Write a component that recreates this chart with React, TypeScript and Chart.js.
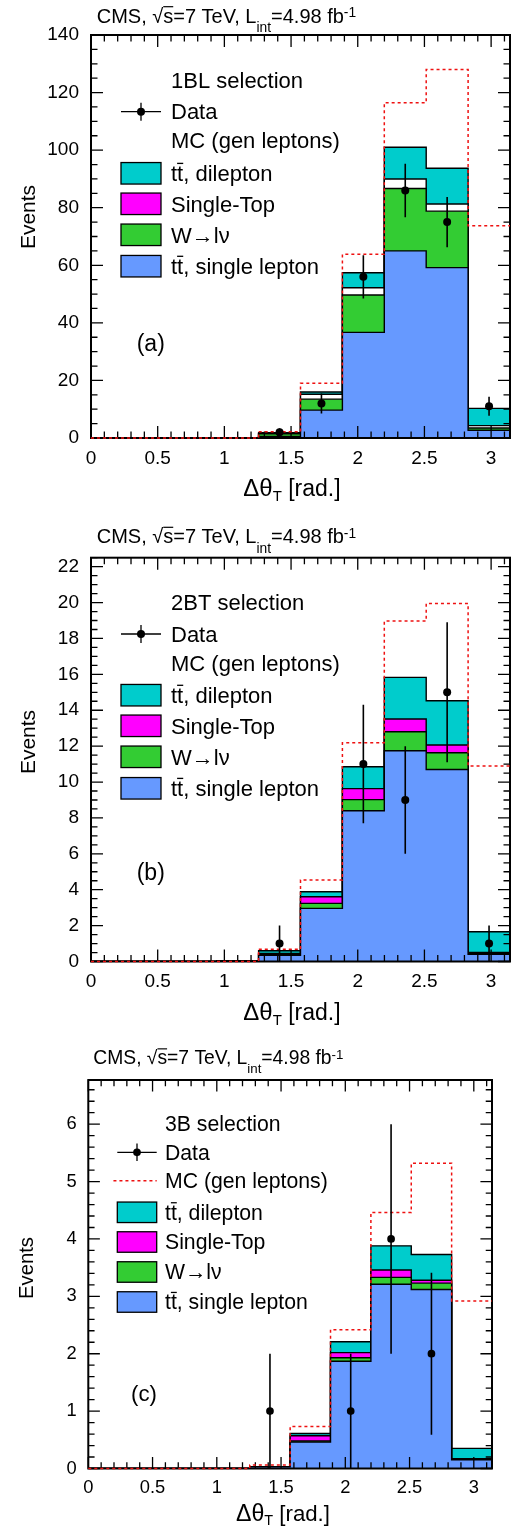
import React, { useEffect, useRef } from "react";
import { Chart, registerables } from "chart.js";
Chart.register(...registerables);

const FONT = '"Liberation Sans", Arial, Helvetica, sans-serif';

// Bin edges (pi/10 wide bins) and centers of the Delta-theta_T histogram
const binEdges = [0, 0.31416, 0.62832, 0.94248, 1.25664, 1.5708, 1.88496, 2.19911, 2.51327, 2.82743, 3.14159];
const binCenters = [0.15708, 0.47124, 0.7854, 1.09956, 1.41372, 1.72788, 2.04204, 2.35619, 2.67035, 2.98451];
const xTickLabels = [0, 0.5, 1, 1.5, 2, 2.5, 3];

// ---- Panel (a): 1BL selection ----
const ttSingleA = [0, 0, 0, 0, 0.5, 9.7, 36.7, 65.0, 59.2, 2.7];
const wlnuA = [0, 0, 0, 0, 1.0, 3.8, 13.0, 21.7, 19.6, 0.8];
const singleTopA = [0, 0, 0, 0, 0.1, 1.7, 2.5, 3.3, 2.5, 0.8];
const ttDilepA = [0, 0, 0, 0, 0.2, 0.8, 5.2, 11.0, 12.4, 6.0];
const mcGenA = [0, 0, 0, 0, 2.2, 19.0, 63.8, 116.5, 128.0, 73.7];
const dataA = [null, null, null, null, 2, 12, 56, 86, 75, 11];
const errA = [0, 0, 0, 0, 1.4, 3.5, 7.5, 9.3, 8.7, 3.3];
const yTicksA = [0, 20, 40, 60, 80, 100, 120, 140];

// ---- Panel (b): 2BT selection ----
const ttSingleB = [0, 0, 0, 0.05, 0.35, 2.96, 8.4, 11.74, 10.7, 0.4];
const wlnuB = [0, 0, 0, 0, 0.05, 0.28, 0.62, 1.06, 0.93, 0.05];
const singleTopB = [0, 0, 0, 0, 0.05, 0.37, 0.61, 0.71, 0.43, 0.05];
const ttDilepB = [0, 0, 0, 0, 0.15, 0.28, 1.22, 2.32, 2.47, 1.16];
const mcGenB = [0, 0, 0, 0, 0.68, 4.54, 12.19, 18.97, 19.95, 10.9];
const dataB = [null, null, null, null, 1, null, 11, 9, 15, 1];
const errB = [0, 0, 0, 0, 1, 0, 3.3, 3, 3.9, 1];
const yTicksB = [0, 2, 4, 6, 8, 10, 12, 14, 16, 18, 20, 22];

// ---- Panel (c): 3B selection ----
const ttSingleC = [0, 0, 0, 0, 0.03, 0.46, 1.87, 3.21, 3.12, 0.15];
const wlnuC = [0, 0, 0, 0, 0, 0.02, 0.06, 0.12, 0.11, 0.01];
const singleTopC = [0, 0, 0, 0, 0, 0.09, 0.09, 0.13, 0.05, 0.01];
const ttDilepC = [0, 0, 0, 0, 0, 0.04, 0.19, 0.42, 0.45, 0.18];
const mcGenC = [0, 0, 0, 0, 0.06, 0.73, 2.42, 4.46, 5.32, 2.92];
const dataC = [null, null, null, null, 1, null, 1, 4, 2, null];
const errC = [0, 0, 0, 0, 1, 0, 1, 2, 1.41, 0];
const yTicksC = [0, 1, 2, 3, 4, 5, 6];

const BLUE = "#6699ff";
const GREEN = "#33cc33";
const MAGENTA = "#ff00ff";
const CYAN = "#00cccc";
const RED = "#ee1111";

type PanelSpec = any;

const panels: PanelSpec[] = [
  {
    key: "a", top: 0, height: 510, plotLeft: 91, plotRight: 510, plotTop: 35, plotBottom: 438,
    yMax: 140, yTicks: yTicksA, yMinor: 5, yMinorPerMajor: 4, k: 1,
    sel: "1BL selection", tag: "(a)", tagX: 136.7, tagY: 351,
    titleX: 96.7, titleY: 22.7, xTitleX: 243.3, xTitleY: 496, yTitleX: 29, yTitleY: 217,
    legX0: 121, legX1: 161, legTextX: 171, legRows: [80.7, 111.7, 140.3, 173.3, 203.8, 234.8, 266.2], boxH: 21.5,
    showMcLine: false, stFill: "#ffffff",
    ttSingle: ttSingleA, wlnu: wlnuA, singleTop: singleTopA, ttDilep: ttDilepA, mc: mcGenA, data: dataA, err: errA,
  },
  {
    key: "b", top: 510, height: 520, plotLeft: 91, plotRight: 510, plotTop: 47.7, plotBottom: 451.5,
    yMax: 22.5, yTicks: yTicksB, yMinor: 0.5, yMinorPerMajor: 4, k: 1,
    sel: "2BT selection", tag: "(b)", tagX: 136.7, tagY: 370,
    titleX: 96.7, titleY: 33.3, xTitleX: 243.3, xTitleY: 509.5, yTitleX: 29, yTitleY: 232,
    legX0: 121, legX1: 161, legTextX: 171, legRows: [92.7, 124, 153.3, 185.2, 215.8, 246.8, 278.3], boxH: 21.5,
    showMcLine: false, stFill: MAGENTA,
    ttSingle: ttSingleB, wlnu: wlnuB, singleTop: singleTopB, ttDilep: ttDilepB, mc: mcGenB, data: dataB, err: errB,
  },
  {
    key: "c", top: 1030, height: 499, plotLeft: 88.3, plotRight: 492, plotTop: 50, plotBottom: 438.5,
    yMax: 6.77, yTicks: yTicksC, yMinor: 0.2, yMinorPerMajor: 5, k: 0.965,
    sel: "3B selection", tag: "(c)", tagX: 131, tagY: 371,
    titleX: 93.3, titleY: 34.3, xTitleX: 236, xTitleY: 490.5, yTitleX: 27, yTitleY: 238,
    legX0: 117.3, legX1: 156.7, legTextX: 165, legRows: [93.3, 122.3, 150.7, 182.3, 212, 242, 272], boxH: 20.5,
    showMcLine: true, stFill: MAGENTA,
    ttSingle: ttSingleC, wlnu: wlnuC, singleTop: singleTopC, ttDilep: ttDilepC, mc: mcGenC, data: dataC, err: errC,
  },
];

type Part = { t: string; s: number; dy?: number; over?: boolean };

function drawRich(ctx: CanvasRenderingContext2D, x: number, y: number, parts: Part[]) {
  let cx = x;
  for (const p of parts) {
    ctx.font = `${p.s}px ${FONT}`;
    const w = ctx.measureText(p.t).width;
    ctx.fillText(p.t, cx, y + (p.dy || 0));
    if (p.over) {
      ctx.save();
      ctx.lineWidth = Math.max(1, p.s * 0.06);
      ctx.beginPath();
      const oy = y + (p.dy || 0) - p.s * 0.8;
      ctx.moveTo(cx, oy);
      ctx.lineTo(cx + w, oy);
      ctx.stroke();
      ctx.restore();
    }
    cx += w;
  }
  return cx;
}

function steps(vals: number[]) {
  const pts = vals.map((v, i) => ({ x: binEdges[i], y: v }));
  pts.push({ x: binEdges[vals.length], y: vals[vals.length - 1] });
  return pts;
}

function buildConfig(p: PanelSpec) {
  const k = p.k;
  const layer = (label: string, vals: number[], color: string, fill: any) => ({
    label,
    data: steps(vals),
    stepped: "before",
    fill,
    backgroundColor: color,
    borderColor: "#000",
    borderWidth: 1.4,
    pointRadius: 0,
    stack: "bg",
    order: 0,
  });
  const dataPts: any[] = [];
  p.data.forEach((v: number | null, i: number) => {
    if (v !== null) dataPts.push({ x: binCenters[i], y: v });
  });
  const datasets: any[] = [
    layer("tt single lepton", p.ttSingle, BLUE, "origin"),
    layer("W->lnu", p.wlnu, GREEN, "-1"),
    layer("Single-Top", p.singleTop, p.stFill, "-1"),
    layer("tt dilepton", p.ttDilep, CYAN, "-1"),
    {
      label: "MC (gen leptons)",
      data: steps(p.mc),
      stepped: "before",
      fill: false,
      borderColor: RED,
      borderDash: [3, 3],
      borderWidth: 1.5,
      pointRadius: 0,
      stack: "mc",
      order: -1,
      clip: 4,
    },
    {
      label: "Data",
      data: dataPts,
      showLine: false,
      pointRadius: 4 * k,
      pointBackgroundColor: "#000",
      pointBorderColor: "#000",
      pointBorderWidth: 0,
      stack: "data",
      order: -2,
      clip: 6,
    },
  ];

  const plugin = {
    id: "rootstyle" + p.key,
    beforeDatasetDraw(chart: any, args: any) {
      if (args.index !== 4) return;
      const { ctx, chartArea } = chart;
      const { left, right, top, bottom } = chartArea;
      const xs = chart.scales.x;
      const ys = chart.scales.y;
      ctx.save();
      ctx.strokeStyle = "#000";
      ctx.lineWidth = 1.3;
      ctx.beginPath();
      for (let i = 0; i * 0.1 <= binEdges[10]; i++) {
        const px = xs.getPixelForValue(i * 0.1);
        const L = (i % 5 === 0 ? 12 : 6.5) * k;
        ctx.moveTo(px, bottom);
        ctx.lineTo(px, bottom - L);
        ctx.moveTo(px, top);
        ctx.lineTo(px, top + L);
      }
      for (let i = 0; i * p.yMinor <= p.yMax + 1e-9; i++) {
        const py = ys.getPixelForValue(i * p.yMinor);
        const L = (i % p.yMinorPerMajor === 0 ? 12 : 6.5) * k;
        ctx.moveTo(left, py);
        ctx.lineTo(left + L, py);
        ctx.moveTo(right, py);
        ctx.lineTo(right - L, py);
      }
      ctx.stroke();
      ctx.lineWidth = 2;
      ctx.strokeRect(left, top, right - left, bottom - top);
      ctx.restore();
    },
    afterDatasetsDraw(chart: any) {
      const { ctx } = chart;
      const xs = chart.scales.x;
      const ys = chart.scales.y;
      ctx.save();
      ctx.strokeStyle = "#000";
      ctx.lineWidth = 1.6;
      ctx.beginPath();
      p.data.forEach((v: number | null, i: number) => {
        if (v === null) return;
        const px = xs.getPixelForValue(binCenters[i]);
        ctx.moveTo(px, ys.getPixelForValue(v - p.err[i]));
        ctx.lineTo(px, ys.getPixelForValue(v + p.err[i]));
      });
      ctx.stroke();
      ctx.restore();
    },
    afterDraw(chart: any) {
      const { ctx } = chart;
      ctx.save();
      ctx.fillStyle = "#000";
      ctx.strokeStyle = "#000";
      ctx.textBaseline = "alphabetic";
      ctx.textAlign = "left";
      const T = 20 * k;
      const S = 13.8 * k;
      drawRich(ctx, p.titleX, p.titleY, [
        { t: "CMS, ", s: T },
        { t: "\u221A", s: T },
        { t: "s", s: T, over: true },
        { t: "=7 TeV, L", s: T },
        { t: "int", s: S, dy: 9.5 * k },
        { t: "=4.98 fb", s: T },
        { t: "-1", s: S, dy: -5.5 * k },
      ]);
      drawRich(ctx, p.xTitleX, p.xTitleY, [
        { t: "\u0394\u03B8", s: 24 * k },
        { t: "T", s: 15 * k, dy: 5 * k },
        { t: " [rad.]", s: 23 * k },
      ]);
      ctx.save();
      ctx.translate(p.yTitleX, p.yTitleY);
      ctx.rotate(-Math.PI / 2);
      ctx.textAlign = "center";
      ctx.textBaseline = "middle";
      ctx.font = `${21 * k}px ${FONT}`;
      ctx.fillText("Events", 0, 0);
      ctx.restore();
      ctx.font = `${23 * k}px ${FONT}`;
      ctx.fillText(p.tag, p.tagX, p.tagY);
      const L = 22 * k;
      const off = 7.7 * k;
      const rows = p.legRows;
      const tx = p.legTextX;
      const cxm = (p.legX0 + p.legX1) / 2;
      ctx.font = `${L}px ${FONT}`;
      ctx.fillText(p.sel, tx, rows[0] + off);
      ctx.lineWidth = 1.3;
      ctx.beginPath();
      ctx.moveTo(p.legX0, rows[1]);
      ctx.lineTo(p.legX1, rows[1]);
      ctx.moveTo(cxm, rows[1] - 9 * k);
      ctx.lineTo(cxm, rows[1] + 9 * k);
      ctx.stroke();
      ctx.beginPath();
      ctx.arc(cxm, rows[1], 4 * k, 0, Math.PI * 2);
      ctx.fill();
      ctx.fillText("Data", tx, rows[1] + off);
      if (p.showMcLine) {
        ctx.save();
        ctx.strokeStyle = RED;
        ctx.lineWidth = 1.5;
        ctx.setLineDash([3, 3]);
        ctx.beginPath();
        ctx.moveTo(p.legX0 - 4 * k, rows[2]);
        ctx.lineTo(p.legX1, rows[2]);
        ctx.stroke();
        ctx.restore();
      }
      ctx.fillText("MC (gen leptons)", tx, rows[2] + off);
      const boxes: [string, Part[]][] = [
        [CYAN, [{ t: "t", s: L }, { t: "t", s: L, over: true }, { t: ", dilepton", s: L }]],
        [MAGENTA, [{ t: "Single-Top", s: L }]],
        [GREEN, [{ t: "W\u2192l\u03BD", s: L }]],
        [BLUE, [{ t: "t", s: L }, { t: "t", s: L, over: true }, { t: ", single lepton", s: L }]],
      ];
      boxes.forEach(([col, parts], j) => {
        const cy = rows[3 + j];
        ctx.fillStyle = col;
        ctx.fillRect(p.legX0, cy - p.boxH / 2, p.legX1 - p.legX0, p.boxH);
        ctx.lineWidth = 1.3;
        ctx.strokeStyle = "#000";
        ctx.strokeRect(p.legX0, cy - p.boxH / 2, p.legX1 - p.legX0, p.boxH);
        ctx.fillStyle = "#000";
        drawRich(ctx, tx, cy + off, parts);
      });
      ctx.restore();
    },
  };

  return {
    type: "line",
    data: { datasets },
    options: {
      animation: false,
      responsive: false,
      maintainAspectRatio: false,
      layout: { padding: { top: p.plotTop, right: 526 - p.plotRight, left: 0, bottom: 0 } },
      plugins: { legend: { display: false }, tooltip: { enabled: false }, title: { display: false } },
      elements: { line: { tension: 0 } },
      scales: {
        x: {
          type: "linear",
          min: 0,
          max: binEdges[10],
          grid: { display: false, drawTicks: false, tickLength: 0 },
          border: { display: false },
          ticks: {
            font: { family: FONT, size: 19 * k },
            color: "#000",
            padding: 9 * k,
            maxRotation: 0,
            autoSkip: false,
            callback: (v: number) => String(v),
          },
          afterBuildTicks: (s: any) => {
            s.ticks = xTickLabels.map((v) => ({ value: v }));
          },
          afterFit: (s: any) => {
            s.height = p.height - p.plotBottom;
          },
        },
        y: {
          type: "linear",
          stacked: true,
          min: 0,
          max: p.yMax,
          grid: { display: false, drawTicks: false, tickLength: 0 },
          border: { display: false },
          ticks: {
            font: { family: FONT, size: 19 * k },
            color: "#000",
            padding: 12 * k,
            autoSkip: false,
            callback: (v: number) => String(v),
          },
          afterBuildTicks: (s: any) => {
            s.ticks = p.yTicks.map((v: number) => ({ value: v }));
          },
          afterFit: (s: any) => {
            s.width = p.plotLeft;
          },
        },
      },
    },
    plugins: [plugin],
  };
}

function Panel({ p }: { p: PanelSpec }) {
  const ref = useRef<HTMLCanvasElement>(null);
  useEffect(() => {
    const chart = new Chart(ref.current as HTMLCanvasElement, buildConfig(p) as any);
    return () => chart.destroy();
  }, [p]);
  return (
    <canvas
      ref={ref}
      width={526}
      height={p.height}
      style={{ position: "absolute", left: 0, top: p.top, width: 526, height: p.height }}
    />
  );
}

export default function App() {
  return (
    <div style={{ position: "absolute", left: 0, top: 0, width: 526, height: 1529, background: "#fff" }}>
      {panels.map((p) => (
        <Panel key={p.key} p={p} />
      ))}
    </div>
  );
}
